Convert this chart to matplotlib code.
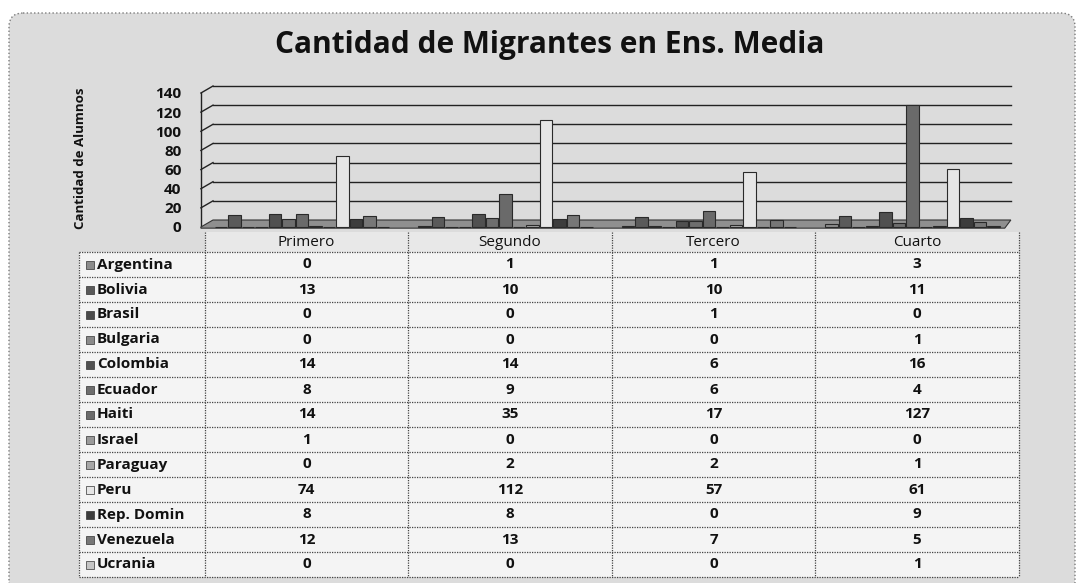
import numpy as np
import matplotlib.pyplot as plt
from matplotlib.patches import FancyBboxPatch, Rectangle, Polygon

plt.rcParams['font.family'] = ['Open Sans', 'DejaVu Sans']

# data
cursos = ['Primero', 'Segundo', 'Tercero', 'Cuarto']
paises = ['Argentina', 'Bolivia', 'Brasil', 'Bulgaria', 'Colombia', 'Ecuador',
          'Haiti', 'Israel', 'Paraguay', 'Peru', 'Rep. Domin', 'Venezuela', 'Ucrania']
argentina = [0, 1, 1, 3]
bolivia = [13, 10, 10, 11]
brasil = [0, 0, 1, 0]
bulgaria = [0, 0, 0, 1]
colombia = [14, 14, 6, 16]
ecuador = [8, 9, 6, 4]
haiti = [14, 35, 17, 127]
israel = [1, 0, 0, 0]
paraguay = [0, 2, 2, 1]
peru = [74, 112, 57, 61]
rep_domin = [8, 8, 0, 9]
venezuela = [12, 13, 7, 5]
ucrania = [0, 0, 0, 1]
valores = [argentina, bolivia, brasil, bulgaria, colombia, ecuador, haiti,
           israel, paraguay, peru, rep_domin, venezuela, ucrania]
grises = ['#8c8c8c', '#5a5a5a', '#4a4a4a', '#8a8a8a', '#505050', '#6e6e6e',
          '#6a6a6a', '#9a9a9a', '#a8a8a8', '#e6e6e6', '#3c3c3c', '#777777', '#c4c4c4']
yticks = [0, 20, 40, 60, 80, 100, 120, 140]

W, H = 1084, 583
fig = plt.figure(figsize=(W / 100, H / 100), dpi=100)
fig.patch.set_facecolor('white')

# background layer in pixel units
bg = fig.add_axes([0, 0, 1, 1])
bg.set_xlim(0, W)
bg.set_ylim(H, 0)
bg.axis('off')
bg.add_patch(FancyBboxPatch((9, 13), 1066, 600, boxstyle='round,pad=0,rounding_size=14',
                            facecolor='#dcdcdc', edgecolor='#7a7a7a', lw=1.0, ls=':'))

bg.text(550, 45, 'Cantidad de Migrantes en Ens. Media', ha='center', va='center',
        fontsize=21.5, fontweight='bold', color='#111111')
bg.text(80, 158, 'Cantidad de Alumnos', rotation=90, ha='center', va='center',
        fontsize=9.5, fontweight='bold', color='#111111')

# data table
col_x = [79, 205, 408, 612, 815, 1019]
head_top, row0, row_h = 232, 252, 25
nrows = len(paises)
bottom = row0 + nrows * row_h
bg.add_patch(Rectangle((col_x[0], row0), col_x[-1] - col_x[0], bottom - row0,
                       facecolor='#f4f4f4', edgecolor='none'))
bg.add_patch(Rectangle((col_x[1], head_top), col_x[-1] - col_x[1], row0 - head_top,
                       facecolor='#e8e8e8', edgecolor='none'))
ls = dict(color='#444444', lw=0.9, ls=(0, (1, 1)))
for i in range(nrows + 1):
    bg.plot([col_x[0], col_x[-1]], [row0 + i * row_h] * 2, **ls)
for k, x in enumerate(col_x):
    top = row0 if k == 0 else head_top
    bg.plot([x, x], [top, bottom], **ls)
for k, c in enumerate(cursos):
    bg.text((col_x[k + 1] + col_x[k + 2]) / 2, (head_top + row0) / 2 + 1, c,
            ha='center', va='center', fontsize=11, color='#111111')
for i, (p, vals, g) in enumerate(zip(paises, valores, grises)):
    yc = row0 + (i + 0.5) * row_h
    bg.add_patch(Rectangle((86, yc - 4), 8, 8, facecolor=g, edgecolor='#333333', lw=0.5))
    bg.text(97, yc, p, ha='left', va='center', fontsize=11, fontweight='bold',
            color='#111111')
    for k, v in enumerate(vals):
        bg.text((col_x[k + 1] + col_x[k + 2]) / 2, yc, str(v), ha='center', va='center',
                fontsize=11, fontweight='bold', color='#111111')

# column chart
y0_px, y140_px = 227, 93
ax = fig.add_axes([col_x[1] / W, 1 - y0_px / H, (col_x[-1] - col_x[1]) / W,
                   (y0_px - y140_px) / H])
ax.set_xlim(0, 4)
ax.set_ylim(0, 140)
ax.patch.set_alpha(0)
for s in ax.spines.values():
    s.set_visible(False)
ax.set_xticks([])
ax.set_yticks(yticks)
ax.set_yticklabels([str(t) for t in yticks], fontsize=11, fontweight='bold', color='#111111')
ax.tick_params(axis='y', length=0, pad=17)

# depth offset of the back wall (8 px right, 7 px up)
dx = 8 / (col_x[-1] - col_x[1]) * 4
dy = 7 / (y0_px - y140_px) * 140
x_end = 3.96
for v in yticks[1:]:
    ax.plot([-0.02, dx], [v, v + dy], color='#222222', lw=1.0, clip_on=False, zorder=1)
    ax.plot([dx, x_end], [v + dy, v + dy], color='#222222', lw=1.0, clip_on=False, zorder=1)
ax.plot([-0.02, -0.02], [0, 140], color='#222222', lw=1.0, clip_on=False, zorder=1)
ax.add_patch(Polygon([[-0.02, 0], [dx, dy], [x_end, dy], [x_end - 0.03, -1.2], [-0.02, -1.2]],
                     closed=True, facecolor='#8f8f8f', edgecolor='#333333', lw=0.8,
                     clip_on=False, zorder=1))

slot = 13.5 / (col_x[-1] - col_x[1]) * 4
first = 16 / (col_x[-1] - col_x[1]) * 4
x = np.arange(len(cursos))
for j, (vals, g) in enumerate(zip(valores, grises)):
    ax.bar(x + first + j * slot, vals, width=slot * 0.9, color=g,
           edgecolor='#2a2a2a', lw=0.8, zorder=3, clip_on=False)

fig.savefig('out.png', dpi=100)
